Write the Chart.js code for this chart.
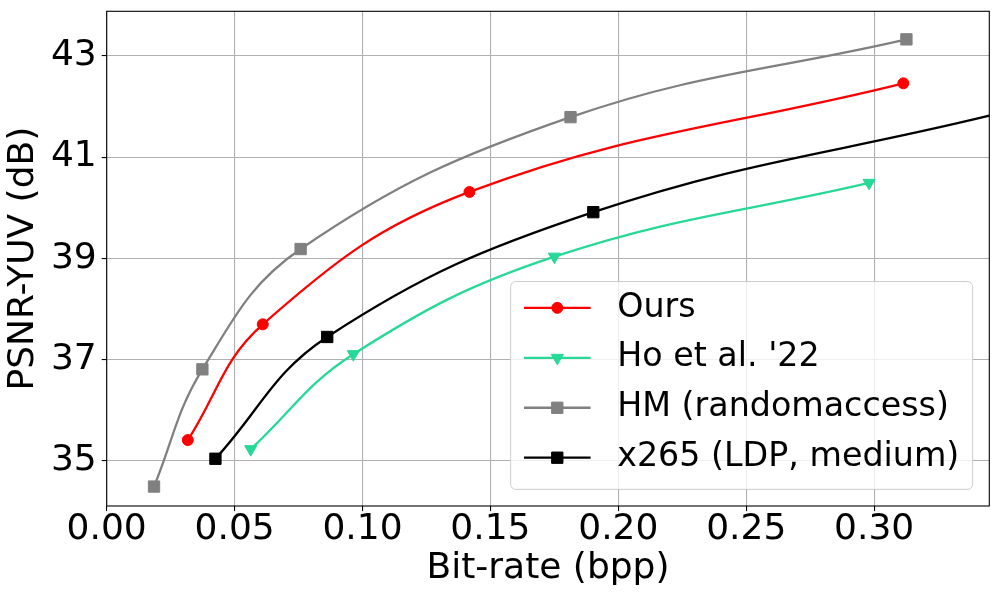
<!DOCTYPE html>
<html>
<head>
<meta charset="utf-8">
<title>Rate-distortion</title>
<script src="https://cdn.jsdelivr.net/npm/chart.js@4.4.1/dist/chart.umd.min.js"></script>
<style>
  html, body { margin: 0; padding: 0; background: #fff; }
  #wrap { width: 1000px; height: 600px; }
</style>
</head>
<body>
<div id="wrap"><canvas id="rdChart" width="1000" height="600"></canvas></div>
<script>
// bit-rate (bpp) and PSNR-YUV (dB)
const oursBpp  = [0.0317, 0.0610, 0.1418, 0.3114];
const oursPsnr = [35.40, 37.69, 40.31, 42.46];
const hoBpp    = [0.0563, 0.0964, 0.1750, 0.2980];
const hoPsnr   = [35.22, 37.10, 39.03, 40.49];
const hmBpp    = [0.0185, 0.0374, 0.0758, 0.1813, 0.3126];
const hmPsnr   = [34.48, 36.80, 39.18, 41.79, 43.33];
// last x265 value is where its curve leaves the plot (no marker drawn there)
const x265Bpp  = [0.0425, 0.0862, 0.1902, 0.3450];
const x265Psnr = [35.03, 37.44, 39.91, 41.82];

const xTicks = [0.00, 0.05, 0.10, 0.15, 0.20, 0.25, 0.30];
const yTicks = [35, 37, 39, 41, 43];

const toPoints = (xs, ys) => xs.map((x, i) => ({ x: x, y: ys[i] }));

Chart.defaults.font.family = '"DejaVu Sans", sans-serif';
Chart.defaults.color = '#000';

// matplotlib-like box around the axes + legend in the lower right corner
const frameAndLegend = {
    id: 'frameAndLegend',
    afterDraw(chart) {
        const ctx = chart.ctx;
        const area = chart.chartArea;
        ctx.save();
        ctx.strokeStyle = '#000';
        ctx.lineWidth = 1.1;
        ctx.strokeRect(area.left, area.top, area.right - area.left, area.bottom - area.top);

        const fs = 33.3;
        const sets = chart.data.datasets;
        ctx.font = fs + 'px "DejaVu Sans"';
        const textW = Math.max(...sets.map(d => ctx.measureText(d.label).width));
        const pad = 0.4 * fs, handle = 2 * fs, gap = 0.8 * fs, row = 1.5 * fs;
        const w = 2 * pad + handle + gap + textW;
        const h = 2 * pad + sets.length * fs + (sets.length - 1) * 0.5 * fs - 2;
        const right = area.right - 0.5 * fs;
        const bottom = area.bottom - 0.5 * fs;
        const left = right - w, top = bottom - h;

        ctx.beginPath();
        ctx.roundRect(left, top, w, h, 5);
        ctx.fillStyle = 'rgba(255,255,255,0.8)';
        ctx.fill();
        ctx.strokeStyle = '#cccccc';
        ctx.lineWidth = 1;
        ctx.stroke();

        sets.forEach((d, i) => {
            const cy = bottom - pad - 0.55 * fs - (sets.length - 1 - i) * row;
            const x0 = left + pad;
            ctx.strokeStyle = d.borderColor;
            ctx.lineWidth = d.borderWidth;
            ctx.beginPath();
            ctx.moveTo(x0, cy);
            ctx.lineTo(x0 + handle, cy);
            ctx.stroke();

            const r = Array.isArray(d.pointRadius) ? d.pointRadius[0] : d.pointRadius;
            ctx.fillStyle = d.backgroundColor;
            ctx.strokeStyle = d.borderColor;
            ctx.lineWidth = d.pointBorderWidth;
            Chart.helpers.drawPoint(ctx, {
                pointStyle: d.pointStyle,
                rotation: d.pointRotation || 0,
                radius: r,
                borderWidth: d.pointBorderWidth
            }, x0 + handle / 2, cy);

            ctx.fillStyle = '#000';
            ctx.textAlign = 'left';
            ctx.textBaseline = 'middle';
            ctx.fillText(d.label, x0 + handle + gap, cy);
        });
        ctx.restore();
    }
};

const lineSet = (label, data, color, style, radius, extra) => Object.assign({
    label: label,
    data: data,
    borderColor: color,
    backgroundColor: color,
    borderWidth: 2.3,
    pointStyle: style,
    pointRadius: radius,
    pointHoverRadius: radius,
    pointBorderWidth: 1,
    pointBorderColor: color,
    pointBackgroundColor: color,
    tension: 0.4,
    fill: false
}, extra || {});

const ctxRd = document.getElementById('rdChart');
new Chart(ctxRd, {
    type: 'line',
    data: {
        datasets: [
            lineSet('Ours', toPoints(oursBpp, oursPsnr), '#ff0000', 'circle', 5.5),
            lineSet("Ho et al. '22", toPoints(hoBpp, hoPsnr), '#26d996', 'triangle', 7, { pointRotation: 180 }),
            lineSet('HM (randomaccess)', toPoints(hmBpp, hmPsnr), '#808080', 'rect', 8),
            lineSet('x265 (LDP, medium)', toPoints(x265Bpp, x265Psnr), '#000000', 'rect', [8, 8, 8, 0])
        ]
    },
    options: {
        responsive: false,
        devicePixelRatio: 1,
        animation: false,
        layout: { padding: { top: 11.3, right: 10.7, left: 0, bottom: 0 } },
        plugins: {
            legend: { display: false },
            tooltip: { enabled: false }
        },
        scales: {
            x: {
                type: 'linear',
                min: 0,
                max: 0.345,
                afterBuildTicks: s => { s.ticks = xTicks.map(v => ({ value: v })); },
                afterFit: s => { s.height = 94; s.paddingLeft = 0; s.paddingRight = 0; },
                ticks: {
                    font: { size: 36, lineHeight: 1 },
                    color: '#000',
                    padding: 1,
                    maxRotation: 0,
                    autoSkip: false,
                    callback: v => v.toFixed(2)
                },
                grid: { color: '#b0b0b0', lineWidth: 1.1, tickColor: '#000', tickLength: 5, tickWidth: 1.1 },
                border: { display: false },
                title: {
                    display: true,
                    text: 'Bit-rate (bpp)',
                    font: { size: 36 },
                    color: '#000',
                    padding: { top: 0, bottom: 10 }
                }
            },
            y: {
                type: 'linear',
                min: 34.095,
                max: 43.885,
                afterBuildTicks: s => { s.ticks = yTicks.map(v => ({ value: v })); },
                afterFit: s => { s.width = 106.7; s.paddingTop = 0; s.paddingBottom = 0; },
                ticks: {
                    font: { size: 36, lineHeight: 1 },
                    color: '#000',
                    padding: 5,
                    autoSkip: false,
                    callback: v => String(v)
                },
                grid: { color: '#b0b0b0', lineWidth: 1.1, tickColor: '#000', tickLength: 5, tickWidth: 1.1 },
                border: { display: false },
                title: {
                    display: true,
                    text: 'PSNR-YUV (dB)',
                    font: { size: 36 },
                    color: '#000',
                    padding: { top: 2, bottom: 0 }
                }
            }
        }
    },
    plugins: [frameAndLegend]
});
</script>
</body>
</html>
